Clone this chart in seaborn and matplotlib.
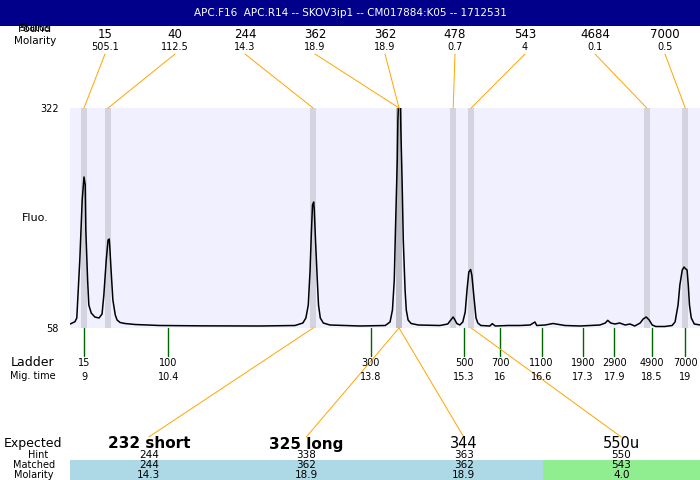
import matplotlib
matplotlib.use('Agg')
import matplotlib.pyplot as plt
from matplotlib.patches import Rectangle
import seaborn as sns
import pandas as pd

title = "APC.F16  APC.R14 -- SKOV3ip1 -- CM017884:K05 -- 1712531"

# electropherogram trace: migration time (min) vs fluorescence
trace_time = [8.77, 8.85, 8.88, 8.93, 8.97, 9.0, 9.02, 9.03, 9.06, 9.08, 9.12, 9.18,
              9.25, 9.3, 9.33, 9.37, 9.4, 9.42, 9.43, 9.45, 9.48, 9.52, 9.55, 9.6,
              9.68, 9.85, 10.26, 10.93, 11.93, 12.51, 12.64, 12.69, 12.73, 12.76,
              12.78, 12.8, 12.82, 12.83, 12.85, 12.88, 12.9, 12.93, 12.98, 13.09,
              13.59, 14.01, 14.09, 14.13, 14.16, 14.18, 14.21, 14.22, 14.24, 14.26,
              14.27, 14.29, 14.31, 14.34, 14.36, 14.39, 14.44, 14.56, 14.92, 15.05,
              15.1, 15.14, 15.17, 15.2, 15.25, 15.3, 15.34, 15.37, 15.4, 15.43,
              15.45, 15.49, 15.52, 15.55, 15.6, 15.75, 15.79, 15.84, 16.05, 16.25,
              16.42, 16.5, 16.53, 16.67, 16.8, 17.0, 17.25, 17.42, 17.58, 17.67,
              17.71, 17.76, 17.83, 17.91, 18.0, 18.08, 18.16, 18.25, 18.3, 18.35,
              18.4, 18.45, 18.51, 18.66, 18.78, 18.83, 18.88, 18.91, 18.95, 18.98,
              19.0, 19.03, 19.05, 19.07, 19.1, 19.15, 19.25]
trace_fluo = [62.8, 65.6, 70, 139.6, 211.6, 239.2, 229.6, 175.6, 115.6, 85.6, 76, 71.2,
              70, 74.8, 97.6, 139.6, 163.6, 164.8, 154, 127.6, 91.6, 73.6, 67.6, 64.6,
              63.4, 62.2, 61, 60.6, 60.4, 61, 64, 70, 85.6, 127.6,
              169.6, 205.6, 209.2, 199.6, 163.6, 115.6, 85.6, 70, 64, 61.6,
              60.4, 61, 65.2, 79.6, 115.6, 175.6, 259.6, 307.6, 340, 340,
              295.6, 235.6, 163.6, 103.6, 79.6, 67.6, 63.4, 61.6, 61, 62.8,
              67.6, 71.2, 67.6, 63.4, 61.6, 65.2, 77.2, 103.6, 125.2, 128.2,
              121.6, 91.6, 70, 64, 61, 60.4, 63.2, 60.4, 61, 61,
              61.6, 65.2, 61, 61.6, 63.4, 61, 60.4, 61, 61.6, 64,
              67.2, 64, 62.8, 64, 61.6, 62.8, 60.4, 64, 68.8, 71.2,
              67.6, 61.6, 59.8, 59.8, 61, 65.2, 85.6, 109.6, 127.6, 131.2,
              129.4, 127.6, 109.6, 85.6, 70, 62.8, 61.6]
fluo_min, fluo_max = 58, 322
time_min, time_max = 8.767, 19.245

# found peaks
found_size = ['15', '40', '244', '362', '362', '478', '543', '4684', '7000']
found_molarity = ['505.1', '112.5', '14.3', '18.9', '18.9', '0.7', '4', '0.1', '0.5']
found_time = [9.0, 9.4, 12.81, 14.24, 14.24, 15.14, 15.44, 18.36, 19.0]

# ladder
ladder_size = ['15', '100', '300', '500', '700', '1100', '1900', '2900', '4900', '7000']
ladder_mig = ['9', '10.4', '13.8', '15.3', '16', '16.6', '17.3', '17.9', '18.5', '19']
ladder_time = [9.0, 10.4, 13.77, 15.32, 15.92, 16.61, 17.3, 17.82, 18.45, 19.0]

# expected products
expected = ['232 short', '325 long', '344', '550u']
expected_bold = [True, True, False, False]
hint = ['244', '338', '363', '550']
matched = ['244', '362', '362', '543']
matched_molarity = ['14.3', '18.9', '18.9', '4.0']
matched_peak = [2, 3, 4, 6]
matched_ok = [True, True, True, False]

sns.set_style('white')
plt.rcParams['font.family'] = ['DejaVu Sans']
plt.rcParams['text.color'] = 'black'
plt.rcParams['ytick.color'] = 'black'
plt.rcParams['axes.labelcolor'] = 'black'

fig = plt.figure(figsize=(7, 4.8), dpi=100)

# main trace panel
ax = fig.add_axes([70 / 700, 152 / 480, 630 / 700, 220 / 480])
ax.set_facecolor('#f0f0ff')
for t in found_time:
    ax.axvspan(t - 0.05, t + 0.05, color='#737373', alpha=0.22, lw=0)
df = pd.DataFrame({'time': trace_time, 'fluo': trace_fluo})
sns.lineplot(data=df, x='time', y='fluo', ax=ax, color='black', lw=1.1,
             estimator=None, sort=False)
ax.set_xlim(time_min, time_max)
ax.set_ylim(fluo_min, fluo_max)
for s in ax.spines.values():
    s.set_visible(False)
ax.set_xticks([])
ax.set_yticks([fluo_min, fluo_max])
ax.set_yticklabels([str(fluo_min), str(fluo_max)], fontsize=7, color='black')
ax.tick_params(axis='y', length=0, pad=8)
ax.set_xlabel('')
ax.set_ylabel('')

# overlay in pixel coordinates for annotations
ov = fig.add_axes([0, 0, 1, 1], zorder=2)
ov.set_xlim(0, 700)
ov.set_ylim(480, 0)
ov.axis('off')

top_y, bot_y = 108, 328


def px(t):
    return ax.transData.transform((t, fluo_min))[0]


# title bar
ov.add_patch(Rectangle((0, 0), 700, 26, color='#00008b', lw=0))
ov.text(350, 13, title, color='white', fontsize=7.5, ha='center', va='center')

# found peaks header
ov.text(35, 28, 'Status', fontsize=7, ha='center', va='center')
ov.text(35, 29, 'Found', fontsize=8, ha='center', va='center')
ov.text(35, 41, 'Molarity', fontsize=7.5, ha='center', va='center')
for i, (s, m, t) in enumerate(zip(found_size, found_molarity, found_time)):
    cx = 105 + 70 * i
    ov.text(cx, 34.5, s, fontsize=8.5, ha='center', va='center')
    ov.text(cx, 47, m, fontsize=7, ha='center', va='center')
    ov.plot([cx, px(t)], [54, top_y], color='orange', lw=0.7)

ov.text(35, 218, 'Fluo.', fontsize=8, ha='center', va='center')

# ladder
ov.text(33, 363, 'Ladder', fontsize=9, ha='center', va='center')
ov.text(33, 376, 'Mig. time', fontsize=7, ha='center', va='center')
for s, m, t in zip(ladder_size, ladder_mig, ladder_time):
    x = px(t)
    ov.plot([x, x], [bot_y, 356], color='#006400', lw=1)
    ov.text(x, 363, s, fontsize=7, ha='center', va='center')
    ov.text(x, 376.5, m, fontsize=7, ha='center', va='center')

# expected products table
col_w = 630 / len(expected)
ov.text(33, 443, 'Expected', fontsize=9, ha='center', va='center')
ov.text(38, 455, 'Hint', fontsize=7, ha='center', va='center')
ov.text(34, 465, 'Matched', fontsize=7, ha='center', va='center')
ov.text(34, 474.5, 'Molarity', fontsize=7, ha='center', va='center')
for i in range(len(expected)):
    x0 = 70 + col_w * i
    cx = x0 + col_w / 2
    fill = '#add8e6' if matched_ok[i] else '#90ee90'
    ov.add_patch(Rectangle((x0, 460), col_w, 20, color=fill, lw=0))
    ov.text(cx, 444, expected[i], fontsize=11 if expected_bold[i] else 10.5,
            ha='center', va='center',
            fontweight='bold' if expected_bold[i] else 'normal')
    ov.text(cx, 455, hint[i], fontsize=7.5, ha='center', va='center')
    ov.text(cx, 465, matched[i], fontsize=7.5, ha='center', va='center')
    ov.text(cx, 474.5, matched_molarity[i], fontsize=7.5, ha='center', va='center')
    ov.plot([px(found_time[matched_peak[i]]), cx], [bot_y, 437], color='orange', lw=0.7)

fig.savefig('out.png', dpi=100)
